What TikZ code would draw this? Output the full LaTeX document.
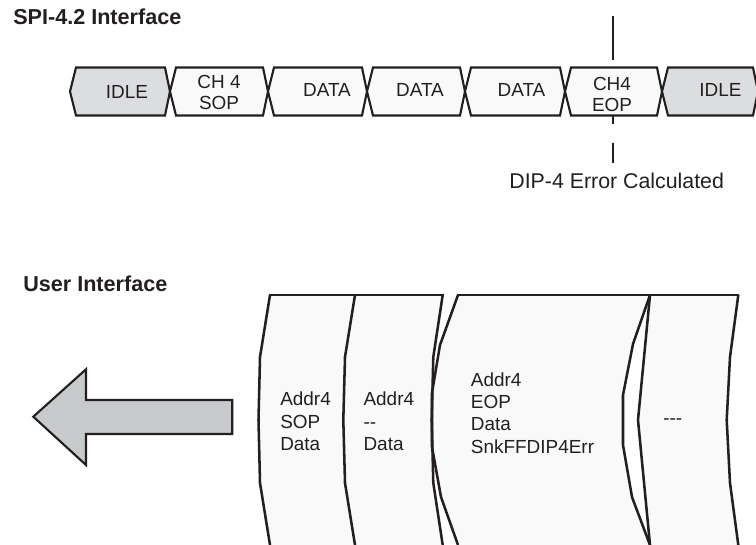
\documentclass[tikz,border=0pt]{standalone}
\usepackage{fontspec}
\setmainfont{Liberation Sans}
\definecolor{ln}{HTML}{231F20}
\definecolor{idlefill}{HTML}{DCDDDF}
\definecolor{cellfill}{HTML}{F9F9F9}
\definecolor{arrowfill}{HTML}{C8C9CB}
\begin{document}
\begin{tikzpicture}[x=0.75pt,y=-0.75pt,
  cellbox/.style={draw=ln,line width=1.6pt,line join=miter},
  panelfill/.style={fill=cellfill},
  paneledge/.style={draw=ln,line width=1.9pt,line join=miter},
  marker/.style={draw=ln,line width=1.6pt},
  lbl/.style={inner sep=0pt,text=ln,font=\fontsize{14.2pt}{17pt}\selectfont},
  ttl/.style={inner sep=0pt,text=ln,anchor=base west,font=\fontsize{16.2pt}{19pt}\selectfont\bfseries},
  diplbl/.style={inner sep=0pt,text=ln,anchor=base,font=\fontsize{16pt}{19pt}\selectfont},
  bigarrow/.style={draw=ln,fill=arrowfill,line width=1.6pt,line join=miter}]
\useasboundingbox (0,0) rectangle (756,545);
\clip (0,0) rectangle (756,545);

% titles
\node[ttl] (spititle) at (13,25) {SPI-4.2 Interface};
\node[ttl] (usertitle) at (23,291.7) {User Interface};

% SPI-4.2 cells
\foreach \a/\b/\f in {70/170/idlefill,170/268/cellfill,268/367/cellfill,367/465/cellfill,465/565/cellfill,565/662/cellfill,662/758/idlefill}
  \filldraw[cellbox,fill=\f] (\a,91.5) -- (\a+6,67.5) -- (\b-5,67.5) -- (\b,91.5) -- (\b-5,115.5) -- (\a+6,115.5) -- cycle;

\node[lbl,anchor=base] (idleA) at (127,98.5) {IDLE};
\node[lbl,anchor=base] (sopA) at (219,88.3) {CH 4};
\node[lbl,anchor=base] (sopB) at (219,109.5) {SOP};
\node[lbl,anchor=base] (dataA) at (327,96.7) {DATA};
\node[lbl,anchor=base] (dataB) at (420,96.7) {DATA};
\node[lbl,anchor=base] (dataC) at (521.5,96.7) {DATA};
\node[lbl,anchor=base] (eopA) at (612,90.7) {CH4};
\node[lbl,anchor=base] (eopB) at (612,111.7) {EOP};
\node[lbl,anchor=base] (idleB) at (720.5,97) {IDLE};

% DIP-4 marker
\coordinate (mk1) at (613,16);
\coordinate (mk2) at (613,60);
\coordinate (mk3) at (613,116);
\coordinate (mk4) at (613,124);
\coordinate (mk5) at (613,143);
\coordinate (mk6) at (613,163);
\draw[marker] (mk1) -- (mk2);
\draw[marker] (mk3) -- (mk4);
\draw[marker] (mk5) -- (mk6);
\node[diplbl] (dip) at (616.7,188.3) {DIP-4 Error Calculated};

% user interface panels: fills
\path[panelfill] (270,295) -- (355,295) -- (345,357) -- (343.3,420) -- (345,483) -- (355,545)
  -- (270,545) -- (260,483) -- (258.5,420) -- (260,357) -- cycle;
\path[panelfill] (355,295) -- (442.7,295) -- (433.3,357) -- (431.7,420) -- (433.3,483) -- (442.7,545)
  -- (355,545) -- (345,483) -- (343.3,420) -- (345,357) -- cycle;
\path[panelfill] (458,295) -- (650,295) -- (633,344) -- (623,395) -- (623,445) -- (632,497) -- (650,545)
  -- (458,545) -- (441,497) -- (432,447) -- (432,393) -- (440,345) -- cycle;
\path[panelfill] (650,295) -- (738.3,295) -- (730,357) -- (726.7,420) -- (730,483) -- (738.3,545)
  -- (650,545) -- (638,420) -- cycle;

% panel edges
\draw[paneledge] (270,295) -- (260,357) -- (258.5,420) -- (260,483) -- (270,545);
\draw[paneledge] (355,295) -- (345,357) -- (343.3,420) -- (345,483) -- (355,545);
\draw[paneledge] (442.7,295) -- (433.3,357) -- (431.7,420) -- (433.3,483) -- (442.7,545);
\draw[paneledge] (458,295) -- (440,345) -- (432,393) -- (432,447) -- (441,497) -- (458,545);
\draw[paneledge] (650,295) -- (633,344) -- (623,395) -- (623,445) -- (632,497) -- (650,545);
\draw[paneledge] (650,295) -- (638,420) -- (650,545);
\draw[paneledge] (738.3,295) -- (730,357) -- (726.7,420) -- (730,483) -- (738.3,545);
\draw[paneledge] (269,295) -- (443.5,295);
\draw[paneledge] (457,295) -- (739.2,295);

% panel texts
\node[lbl,anchor=base west] (p1a) at (280,405) {Addr4};
\node[lbl,anchor=base west] (p1b) at (280,428) {SOP};
\node[lbl,anchor=base west] (p1c) at (280,450.5) {Data};
\node[lbl,anchor=base west] (p2a) at (363.3,405) {Addr4};
\node[lbl,anchor=base west] (p2b) at (363.3,428) {-{}-};
\node[lbl,anchor=base west] (p2c) at (363.3,450.5) {Data};
\node[lbl,anchor=base west] (p3a) at (470.7,386) {Addr4};
\node[lbl,anchor=base west] (p3b) at (470.7,408.3) {EOP};
\node[lbl,anchor=base west] (p3c) at (470.7,430.7) {Data};
\node[lbl,anchor=base west] (p3d) at (470.7,453.3) {SnkFFDIP4Err};
\node[lbl,anchor=base west] (p4a) at (663,424) {-{}-{}-};

% big arrow
\filldraw[bigarrow] (33.3,416.7) -- (86,369.3) -- (86,400) -- (232.3,400) -- (232.3,434)
  -- (86,434) -- (86,465) -- cycle;
\end{tikzpicture}
\end{document}
